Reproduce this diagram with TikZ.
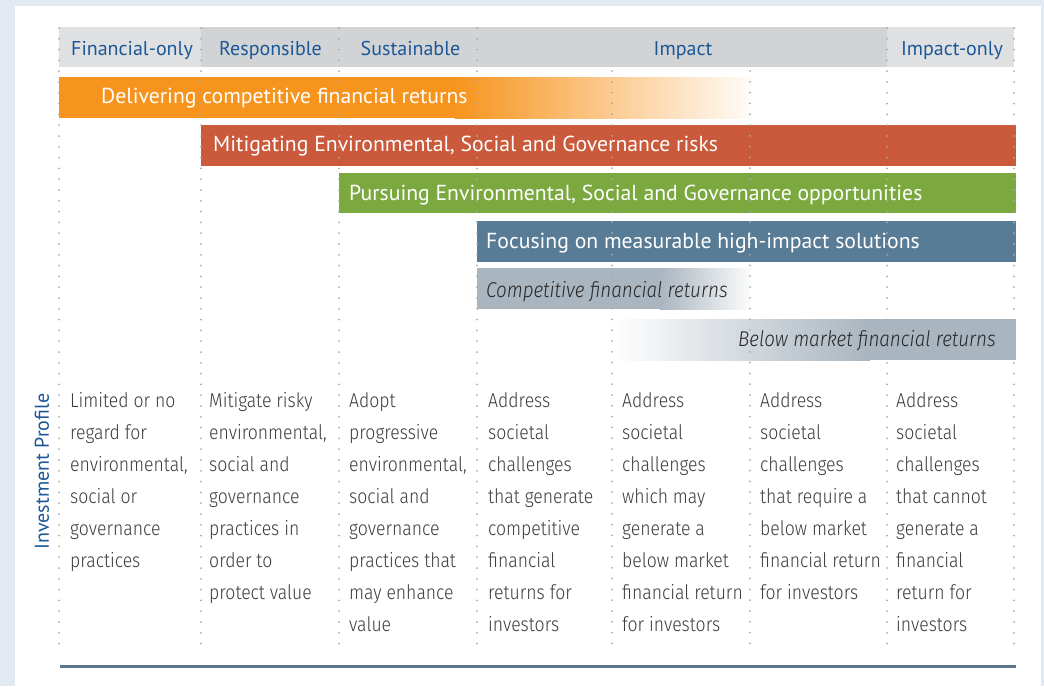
\documentclass[tikz,border=0pt]{standalone}
\usepackage{fontspec}
\newfontfamily\headfont{PT Sans}
\newfontfamily\lightfont[FakeStretch=0.88, UprightFont={* Light}, ItalicFont={* Light Italic}]{Fira Sans}

\definecolor{pagebg}{HTML}{E2E9F0}
\definecolor{hdrlight}{HTML}{DFE0E2}
\definecolor{hdrdark}{HTML}{D1D3D5}
\definecolor{hdrtext}{HTML}{1B5798}
\definecolor{orangebar}{HTML}{F7941D}
\definecolor{redbar}{HTML}{CA5A3B}
\definecolor{greenbar}{HTML}{7BA93F}
\definecolor{bluebar}{HTML}{587C95}
\definecolor{greybar}{HTML}{A9B5BF}
\definecolor{gridgrey}{HTML}{A6AAAE}
\definecolor{bodytext}{HTML}{3C3C3C}
\definecolor{ruleline}{HTML}{5A778F}

\tikzset{
  hdr/.style={font=\headfont\fontsize{20}{24}\selectfont, text=hdrtext, inner sep=0pt, anchor=base},
  bartext/.style={font=\headfont\fontsize{21.7}{26}\selectfont, text=white, inner sep=0pt, anchor=base west},
  greytext/.style={font=\lightfont\itshape\fontsize{21.4}{26}\selectfont, text=black!85, inner sep=0pt},
  coltext/.style={font=\lightfont\fontsize{20}{32}\selectfont, text=bodytext, inner sep=0pt,
                  anchor=north west, align=left},
  gridline/.style={gridgrey, line width=2pt, line cap=round, dash pattern=on 0pt off 10.8pt},
}

\begin{document}
\begin{tikzpicture}[x=1pt, y=-1pt]
  % page and panel
  \fill[pagebg] (0,0) rectangle (1044,686);
  \fill[white] (15,6) rectangle (1041,686);
  \useasboundingbox (0,0) rectangle (1044,686);

  % header strip
  \fill[hdrlight] (59,27) rectangle (201,67);
  \fill[hdrdark] (201,27) rectangle (887,67);
  \fill[hdrlight] (887,27) rectangle (1014,67);

  % bars
  \fill[orangebar] (59,77) rectangle (455,118);
  \shade[left color=orangebar, right color=orangebar!3!white] (454.5,77) rectangle (750,118);
  \fill[redbar] (201,125) rectangle (1016,166);
  \fill[greenbar] (339,173) rectangle (1016,213);
  \fill[bluebar] (477,221) rectangle (1016,262);
  \fill[greybar] (477,268) rectangle (660,309);
  \shade[left color=greybar, right color=greybar!5!white] (659.5,268) rectangle (750,309);
  \shade[left color=white, right color=greybar] (612,319) rectangle (870,360);
  \fill[greybar] (869.5,319) rectangle (1016,360);

  % dotted column separators
  \foreach \gx in {59,201,339,477,887,1014}
    \draw[gridline] (\gx,28) -- (\gx,645);
  \foreach \gx in {612,750}
    \draw[gridline] (\gx,71) -- (\gx,645);

  % header labels
  \node[hdr] (hFin) at (132,55) {Financial-only};
  \node[hdr] (hResp) at (270.5,55) {Responsible};
  \node[hdr] (hSust) at (410.5,55) {Sustainable};
  \node[hdr] (hImp) at (683,55) {Impact};
  \node[hdr] (hImpOnly) at (952,55) {Impact-only};

  % bar labels
  \node[bartext] (bDeliver) at (101,103) {Delivering competitive financial returns};
  \node[bartext] (bMitigate) at (213,151.5) {Mitigating Environmental, Social and Governance risks};
  \node[bartext] (bPursue) at (349,200) {Pursuing Environmental, Social and Governance opportunities};
  \node[bartext] (bFocus) at (486,248.5) {Focusing on measurable high-impact solutions};
  \node[greytext, anchor=base west] (bComp) at (486,297) {Competitive financial returns};
  \node[greytext, anchor=base east] (bBelow) at (996,346) {Below market financial returns};

  % side label
  \node[hdr, anchor=center, rotate=90] (sideLabel) at (42,471.5) {Investment Profile};

  % column descriptions
  \node[coltext] (cFin) at (70,384.6) {\strut Limited or no\\regard for\\environmental,\\social or\\governance\\practices};
  \node[coltext] (cResp) at (209,384.6) {\strut Mitigate risky\\environmental,\\social and\\governance\\practices in\\order to\\protect value};
  \node[coltext] (cSust) at (349,384.6) {\strut Adopt\\progressive\\environmental,\\social and\\governance\\practices that\\may enhance\\value};
  \node[coltext] (cImpA) at (488,384.6) {\strut Address\\societal\\challenges\\that generate\\competitive\\financial\\returns for\\investors};
  \node[coltext] (cImpB) at (622,384.6) {\strut Address\\societal\\challenges\\which may\\generate a\\below market\\financial return\\for investors};
  \node[coltext] (cImpC) at (760,384.6) {\strut Address\\societal\\challenges\\that require a\\below market\\financial return\\for investors};
  \node[coltext] (cImpOnly) at (896,384.6) {\strut Address\\societal\\challenges\\that cannot\\generate a\\financial\\return for\\investors};

  % closing rule
  \draw[ruleline, line width=3pt] (60,666.5) -- (1016,666.5);
\end{tikzpicture}
\end{document}
